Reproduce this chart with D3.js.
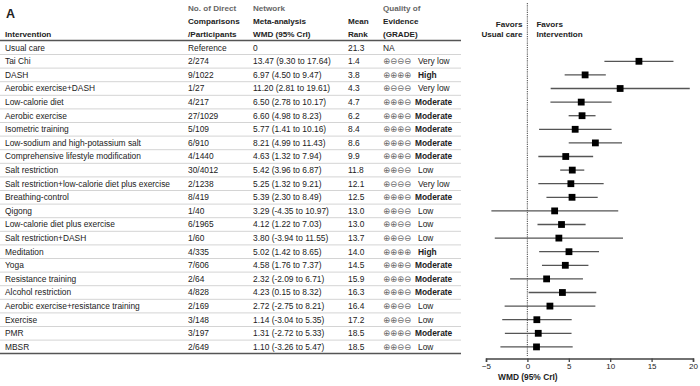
<!DOCTYPE html>
<html><head><meta charset="utf-8">
<script src="https://cdn.jsdelivr.net/npm/d3@7"></script>
<style>body{margin:0;background:#fff}svg{display:block}text{font-family:"Liberation Sans",Arial,sans-serif}</style>
</head><body><svg id="c" width="700" height="386"></svg>
<script>
const interventions = ["Usual care","Tai Chi","DASH","Aerobic exercise+DASH","Low-calorie diet","Aerobic exercise","Isometric training","Low-sodium and high-potassium salt","Comprehensive lifestyle modification","Salt restriction","Salt restriction+low-calorie diet plus exercise","Breathing-control","Qigong","Low-calorie diet plus exercise","Salt restriction+DASH","Meditation","Yoga","Resistance training","Alcohol restriction","Aerobic exercise+resistance training","Exercise","PMR","MBSR"];
const comparisons = ["Reference","2/274","9/1022","1/27","4/217","27/1029","5/109","6/910","4/1440","30/4012","2/1238","8/419","1/40","6/1965","1/60","4/335","7/606","2/64","4/828","2/169","3/148","3/197","2/649"];
const wmd =   [0,13.47,6.97,11.20,6.50,6.60,5.77,8.21,4.63,5.42,5.25,5.39,3.29,4.12,3.80,5.02,4.58,2.32,4.23,2.72,1.14,1.31,1.10];
const lower = [null,9.30,4.50,2.81,2.78,4.98,1.41,4.99,1.32,3.96,1.32,2.30,-4.35,1.22,-3.94,1.42,1.76,-2.09,0.15,-2.75,-3.04,-2.72,-3.26];
const upper = [null,17.64,9.47,19.61,10.17,8.23,10.16,11.43,7.94,6.87,9.21,8.49,10.97,7.03,11.55,8.65,7.37,6.71,8.32,8.21,5.35,5.33,5.47];
const meanRank = ["21.3","1.4","3.8","4.3","4.7","6.2","8.4","8.6","9.9","11.8","12.1","12.5","13.0","13.0","13.7","14.0","14.5","15.9","16.3","16.4","17.2","18.5","18.5"];
const grade = ["NA","Very low","High","Very low","Moderate","Moderate","Moderate","Moderate","Moderate","Low","Very low","Moderate","Low","Low","Low","High","Moderate","Moderate","Moderate","Low","Low","Moderate","Low"];
const axisTicks = [-5,0,5,10,15,20];

const svg = d3.select("#c");
const f = v => v.toFixed(2);
const y = d3.scaleLinear().domain([0, interventions.length-1]).range([47.7, 346.9]);
const x = d3.scaleLinear().domain([-5,20]).range([486,693]);
const FS = 8.4, HF = 8.1;

svg.append("text").attr("x",6).attr("y",17.5).attr("font-size",12.5).attr("font-weight","bold").attr("fill","#222").text("A");

const hdr = [
 [5,[null,null,"Intervention"]],
 [188,["No. of Direct","Comparisons","/Participants"]],
 [253,["Network","Meta-analysis","WMD (95% CrI)"]],
 [348,[null,"Mean","Rank"]],
 [383,["Quality of","Evidence","(GRADE)"]]
];
const hy=[8.5,21,34];
hdr.forEach(([hx,lines])=>lines.forEach((t,i)=>{ if(!t) return;
  svg.append("text").attr("x",hx).attr("y",hy[i]).attr("dy","0.35em").attr("font-size",HF)
   .attr("font-weight","bold").attr("fill", i===0?"#666":"#222").text(t);}));

const rows = d3.range(interventions.length);
svg.selectAll("line.sep").data(rows.slice(1)).join("line").attr("class","sep")
  .attr("x1",0).attr("x2",461).attr("y1",i=>(y(i)+y(i-1))/2).attr("y2",i=>(y(i)+y(i-1))/2)
  .attr("stroke","#d4d4d4").attr("stroke-width",1);
svg.append("line").attr("x1",0).attr("x2",461).attr("y1",40.5).attr("y2",40.5).attr("stroke","#555").attr("stroke-width",1.5);
svg.append("line").attr("x1",0).attr("x2",461).attr("y1",353.5).attr("y2",353.5).attr("stroke","#555").attr("stroke-width",1.5);

const cell=(cls,cx,fn)=>svg.selectAll("text."+cls).data(rows).join("text").attr("class",cls)
  .attr("x",cx).attr("y",i=>y(i)).attr("dy","0.35em")
  .attr("font-size",FS).attr("fill","#222").text(fn);
cell("c0",5,i=>interventions[i]);
cell("c1",188,i=>comparisons[i]);
cell("c2",253,i=>i===0?"0":`${f(wmd[i])} (${f(lower[i])} to ${f(upper[i])})`);
cell("c3",348,i=>meanRank[i]);
const sym={"Very low":"⊕⊖⊖⊖","Low":"⊕⊕⊖⊖","Moderate":"⊕⊕⊕⊖","High":"⊕⊕⊕⊕","NA":""};
svg.selectAll("text.sym").data(rows).join("text").attr("class","sym").attr("x",383).attr("y",i=>y(i)).attr("dy","0.35em")
  .attr("font-size",8.4).attr("fill","#666").style("font-family","DejaVu Sans").text(i=>sym[grade[i]]);
svg.selectAll("text.gr").data(rows).join("text").attr("class","gr")
  .attr("x",i=>grade[i]==="NA"?383:grade[i]==="Moderate"?415:418).attr("y",i=>y(i)).attr("dy","0.35em")
  .attr("font-size",FS).attr("font-weight",i=>(grade[i]==="Moderate"||grade[i]==="High")?"bold":"normal")
  .attr("fill","#222").text(i=>grade[i]);

svg.append("line").attr("x1",x(0)).attr("x2",x(0)).attr("y1",3).attr("y2",356)
  .attr("stroke","#666").attr("stroke-width",1.2).attr("stroke-dasharray","1.2,1");
[["Favors",24.5],["Usual care",34.5]].forEach(([t,yy])=>svg.append("text").attr("x",x(0)-5).attr("y",yy).attr("dy","0.35em").attr("text-anchor","end").attr("font-size",HF).attr("font-weight","bold").attr("fill","#222").text(t));
[["Favors",24.5],["Intervention",34.5]].forEach(([t,yy])=>svg.append("text").attr("x",x(0)+9).attr("y",yy).attr("dy","0.35em").attr("font-size",HF).attr("font-weight","bold").attr("fill","#222").text(t));

const fr = rows.filter(i=>lower[i]!==null);
svg.selectAll("line.ci").data(fr).join("line").attr("class","ci")
  .attr("x1",i=>x(lower[i])).attr("x2",i=>x(upper[i])).attr("y1",i=>y(i)).attr("y2",i=>y(i))
  .attr("stroke","#555").attr("stroke-width",1.3);
svg.selectAll("rect.pt").data(fr).join("rect").attr("class","pt")
  .attr("x",i=>x(wmd[i])-3.4).attr("y",i=>y(i)-3.4).attr("width",6.8).attr("height",6.8).attr("fill","#000");

const ax = svg.append("g").attr("transform","translate(0,358.5)")
  .call(d3.axisBottom(x).tickValues(axisTicks).tickSize(3.5).tickFormat(d=>d<0?"\u2212"+Math.abs(d):d));
ax.select(".domain").attr("stroke","#444").attr("stroke-width",1.5);
ax.selectAll(".tick line").attr("stroke","#444").attr("stroke-width",1.3);
ax.selectAll(".tick text").attr("font-size",8).attr("fill","#222").attr("dy","0.5em").style("font-family","Liberation Sans, Arial");
svg.append("text").attr("x",498).attr("y",377.5).attr("dy","0.35em").attr("font-size",8.4).attr("font-weight","bold").attr("fill","#222").text("WMD (95% CrI)");
</script></body></html>
